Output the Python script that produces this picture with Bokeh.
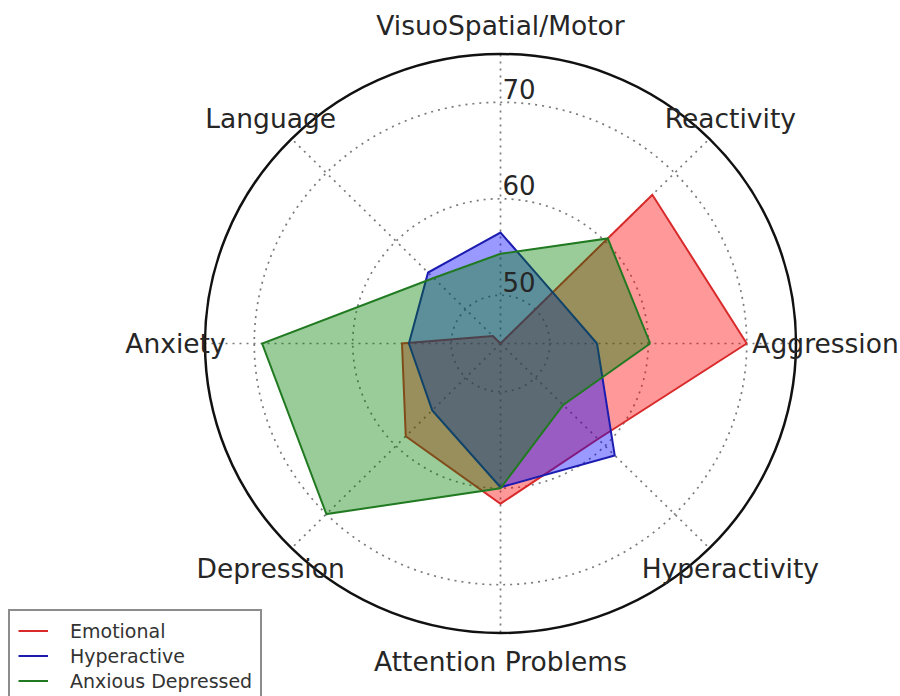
import numpy as np
from bokeh.plotting import figure
from bokeh.models import Range1d, Legend, LegendItem
from bokeh.core.properties import value
from bokeh.embed import file_html
from bokeh.resources import INLINE

# ---------------- data ----------------
categories = ["Aggression", "Reactivity", "VisuoSpatial/Motor", "Language",
              "Anxiety", "Depression", "Attention Problems", "Hyperactivity"]
emotional = [70.0, 66.8, 45.0, 46.1, 55.0, 58.6, 61.6, 59.0]
hyperactive = [54.8, 52.5, 56.5, 55.4, 54.3, 54.8, 59.9, 61.4]
anxious_depressed = [60.2, 60.4, 54.3, 54.6, 69.2, 70.0, 60.0, 54.0]
series_names = ["Emotional", "Hyperactive", "Anxious Depressed"]
series_values = [emotional, hyperactive, anxious_depressed]
fill_colors = ["#ff0000", "#0000ff", "#008000"]
line_colors = ["#d82a2a", "#1c1cb0", "#217a21"]
r_min, r_max = 45, 75
ring_ticks = [50, 60, 70]
ring_labels = ["50", "60", "70"]

# ---------------- layout ----------------
W, H = 900, 696
cx_px, cy_px = 500, 343          # centre of the polar area, pixels from top-left
sx, sy = 9.85, 9.65              # pixels per unit
x_range = Range1d(-cx_px / sx, (W - cx_px) / sx)
y_range = Range1d(-(H - cy_px) / sy, cy_px / sy)

p = figure(width=W, height=H, x_range=x_range, y_range=y_range,
           output_backend="svg", toolbar_location=None, min_border=0)
p.axis.visible = False
p.grid.visible = False
p.outline_line_color = None
p.background_fill_color = "white"

n = len(categories)
theta = np.arange(n) * 2 * np.pi / n
R = r_max - r_min

# spokes
p.segment(x0=np.zeros(n), y0=np.zeros(n), x1=R * np.cos(theta), y1=R * np.sin(theta),
          line_color="#7a7a7a", line_width=1.7, line_dash="2 5")
# rings
ring_r = np.array(ring_ticks, dtype=float) - r_min
p.ellipse(x=np.zeros(len(ring_r)), y=np.zeros(len(ring_r)), width=2 * ring_r, height=2 * ring_r,
          fill_color=None, line_color="#7a7a7a", line_width=1.7, line_dash="2 5")

# series
line_renderers = []
for name, vals, fc, lc in zip(series_names, series_values, fill_colors, line_colors):
    r = np.array(vals) - r_min
    xs = r * np.cos(theta)
    ys = r * np.sin(theta)
    p.patch(x=xs, y=ys, fill_color=fc, fill_alpha=0.4, line_color=None)
    lr = p.line(x=np.append(xs, xs[0]), y=np.append(ys, ys[0]), line_color=lc,
                line_width=2, line_join="miter")
    line_renderers.append(lr)

# outer circle
p.ellipse(x=[0], y=[0], width=[2 * R], height=[2 * R], fill_color=None,
          line_color="#111111", line_width=2.5)

# ring labels (just above each ring, on the vertical spoke)
p.text(x=np.zeros(len(ring_r)), y=ring_r + 0.35, text=ring_labels, text_align="left",
       text_baseline="bottom", x_offset=2,
       text_font=value("DejaVu Sans"), text_font_size="26px", text_color="#262626")

# category labels, centred just outside the outer circle
R_lab = 33.0
p.text(x=R_lab * np.cos(theta), y=R_lab * np.sin(theta), text=categories,
       text_align="center", text_baseline="middle", text_font=value("DejaVu Sans"),
       text_font_size="26.5px", text_color="#262626")

legend = Legend(items=[LegendItem(label=nm, renderers=[lr]) for nm, lr in zip(series_names, line_renderers)],
                location=(8, -6), margin=0, padding=8, spacing=2,
                border_line_color="#1a1a1a", border_line_width=2,
                background_fill_color="white", background_fill_alpha=1.0,
                label_text_font="DejaVu Sans", label_text_font_size="19px",
                label_text_color="#333333", glyph_width=30, glyph_height=23,
                label_height=23, label_standoff=22)
p.add_layout(legend)

open("out.html", "w").write(file_html(p, INLINE))
